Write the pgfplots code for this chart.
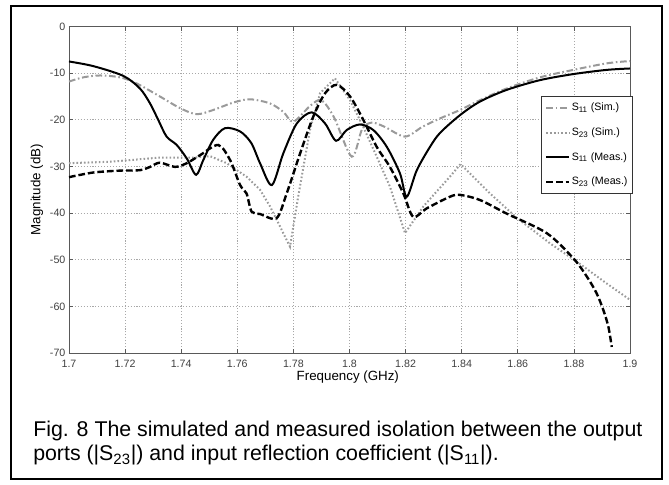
\documentclass[border=0pt]{standalone}
\usepackage{pgfplots}
\pgfplotsset{compat=1.18}
\usepackage{fontspec}
\setmainfont{Liberation Sans}
\definecolor{simgray}{HTML}{9A9A9A}
\definecolor{gridgray}{HTML}{A8A8A8}
\begin{document}
\begin{tikzpicture}
\useasboundingbox (0,0) rectangle (501.75pt,363.75pt);
\draw[line width=2pt] (8.25pt,4.5pt) rectangle (496.5pt,359.25pt);
\begin{axis}[
  at={(51.75pt,99pt)}, anchor=south west,
  scale only axis, width=420.75pt, height=244.875pt,
  xmin=1.7, xmax=1.9, ymin=-70, ymax=0,
  xtick={1.7,1.72,1.74,1.76,1.78,1.8,1.82,1.84,1.86,1.88,1.9},
  xticklabels={1.7,1.72,1.74,1.76,1.78,1.8,1.82,1.84,1.86,1.88,1.9},
  ytick={-70,-60,-50,-40,-30,-20,-10,0},
  yticklabels={-70,-60,-50,-40,-30,-20,-10,0},
  tick pos=both, tick align=inside, major tick length=3pt,
  grid=major,
  major grid style={gridgray, line width=0.6pt, dash pattern=on 0.8pt off 1.4pt},
  axis line style={black!65, line width=0.6pt},
  every tick/.style={black!65, line width=0.5pt},
  tick label style={font=\fontsize{8}{9}\selectfont, text=black!75, inner sep=0pt},
  xticklabel style={anchor=center, yshift=-8.25pt},
  yticklabel style={anchor=east, xshift=-2.5pt},
  /pgf/number format/assume math mode=true,
  xlabel={Frequency (GHz)}, ylabel={Magnitude (dB)},
  label style={font=\fontsize{7.5}{9}\selectfont, text=black!80},
  every axis x label/.style={at={(axis description cs:0.497,-0.0735)}, anchor=center},
  every axis y label/.style={at={(axis description cs:-0.057,0.5)}, anchor=center, rotate=90},
  legend style={at={(0.843,0.785)}, anchor=north west, draw=black!80, line width=0.8pt,
    fill=white, font=\fontsize{8}{9.5}\selectfont, inner sep=2.5pt, outer sep=0pt, row sep=6.5pt,
    nodes={inner sep=1pt, text height=7pt, text depth=3pt}},
  legend cell align=left,
]
\addplot[simgray, line width=1.5pt, dash pattern=on 5pt off 2pt on 1.2pt off 2pt, smooth, tension=0.5] coordinates {
(1.700,-11.8) (1.7051,-10.9) (1.711,-10.5) (1.7182,-10.9) (1.7241,-12.2) (1.7324,-15.0)
(1.7396,-17.5) (1.7455,-18.8) (1.7514,-17.9) (1.7586,-16.3) (1.7645,-15.6) (1.7717,-16.5)
(1.7764,-18.3) (1.780,-20.4) (1.786,-17.0) (1.790,-15.8) (1.7945,-19.5) (1.8008,-27.9)
(1.8045,-22.0) (1.808,-20.6) (1.8125,-21.5) (1.8198,-23.6) (1.826,-21.5) (1.8323,-19.7)
(1.8394,-17.9) (1.8465,-15.8) (1.856,-13.3) (1.8679,-10.9) (1.8798,-9.3) (1.8917,-7.9) (1.900,-7.4)
};
\addlegendentry{S\textsubscript{11} (Sim.)}
\addplot[simgray, line width=1.5pt, dash pattern=on 1.2pt off 1.6pt] coordinates {
(1.700,-29.3) (1.7146,-29.0) (1.7324,-28.1) (1.7443,-28.1) (1.7503,-27.8) (1.7562,-29.3)
(1.7633,-32.2) (1.7681,-35.0) (1.7717,-38.6) (1.7764,-44.3) (1.7788,-47.2) (1.7817,-36.5)
(1.7859,-22.2) (1.7895,-14.3) (1.7948,-11.1) (1.8002,-15.8) (1.8049,-21.5) (1.8097,-27.9)
(1.8144,-34.3) (1.8198,-44.3) (1.8263,-38.6) (1.8358,-32.2) (1.8396,-29.5) (1.8501,-35.8)
(1.8596,-41.0) (1.8715,-46.5) (1.881,-50.4) (1.8917,-55.1) (1.900,-58.6)
};
\addlegendentry{S\textsubscript{23} (Sim.)}
\addplot[black, line width=1.5pt, smooth, tension=0.5] coordinates {
(1.700,-7.5) (1.7087,-8.5) (1.7194,-10.6) (1.7253,-13.3) (1.7289,-16.5) (1.7318,-20.0)
(1.7348,-23.6) (1.7384,-25.4) (1.742,-28.3) (1.7453,-31.8) (1.7479,-28.6) (1.7514,-24.3)
(1.7556,-21.8) (1.761,-22.5) (1.7650,-25.0) (1.7681,-29.3) (1.7723,-34.0) (1.7764,-27.2)
(1.7812,-20.8) (1.7865,-18.4) (1.7913,-20.8) (1.7952,-24.5) (1.799,-22.2) (1.8037,-21.0)
(1.8085,-22.2) (1.8133,-25.8) (1.818,-31.5) (1.8204,-36.5) (1.824,-30.8) (1.8287,-25.8)
(1.8323,-22.8) (1.8394,-19.0) (1.8465,-16.1) (1.856,-13.6) (1.8679,-11.5) (1.8798,-10.2)
(1.8917,-9.3) (1.900,-9.0)
};
\addlegendentry{S\textsubscript{11} (Meas.)}
\addplot[black, line width=1.8pt, dash pattern=on 5pt off 2.2pt, smooth, tension=0.5] coordinates {
(1.700,-32.3) (1.7087,-31.3) (1.7182,-30.9) (1.7253,-30.8) (1.7289,-30.1) (1.7324,-29.2)
(1.7378,-30.1) (1.742,-29.3) (1.7467,-27.6) (1.7532,-25.4) (1.7574,-28.6) (1.761,-34.0)
(1.7633,-35.8) (1.7651,-39.7) (1.7681,-40.2) (1.774,-41.1) (1.7776,-35.8) (1.7824,-27.2)
(1.7871,-19.3) (1.7913,-14.3) (1.7955,-12.5) (1.8002,-15.0) (1.8049,-20.0) (1.8097,-25.8)
(1.8144,-30.1) (1.8192,-35.8) (1.8227,-40.8) (1.8275,-39.0) (1.8358,-36.5) (1.8394,-36.1)
(1.8465,-37.2) (1.856,-40.1) (1.8703,-44.3) (1.8798,-49.7) (1.8846,-53.6) (1.8881,-57.2)
(1.8905,-60.8) (1.8923,-64.4) (1.8935,-68.7)
};
\addlegendentry{S\textsubscript{23} (Meas.)}
\end{axis}
\node[anchor=base west, inner sep=0pt, font=\fontsize{16}{18}\selectfont] at (24.75pt,36pt)
  {Fig. 8 The simulated and measured isolation between the output};
\node[anchor=base west, inner sep=0pt, font=\fontsize{16}{18}\selectfont] at (24.75pt,18pt)
  {ports (|S\textsubscript{23}|) and input reflection coefficient (|S\textsubscript{11}|).};
\end{tikzpicture}
\end{document}
